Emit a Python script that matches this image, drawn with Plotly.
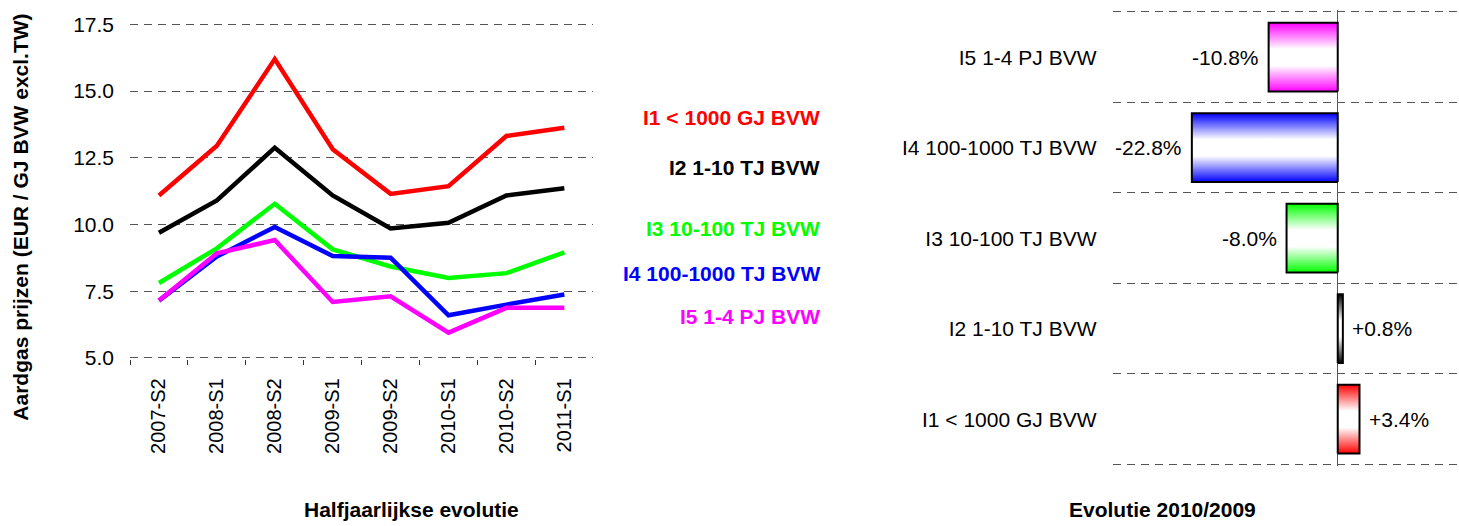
import plotly.graph_objects as go

# Half-yearly gas prices per consumer band (EUR / GJ BVW excl. TW)
periods = ["2007-S2", "2008-S1", "2008-S2", "2009-S1", "2009-S2", "2010-S1", "2010-S2", "2011-S1"]

series_names = ["I1 < 1000 GJ BVW", "I2 1-10 TJ BVW", "I3 10-100 TJ BVW",
                "I4 100-1000 TJ BVW", "I5 1-4 PJ BVW"]
series_colors = ["#FF0000", "#000000", "#00FF00", "#0000FF", "#FF00FF"]

i1_prices = [11.09, 12.95, 16.20, 12.82, 11.15, 11.44, 13.32, 13.63]
i2_prices = [9.69, 10.90, 12.88, 11.09, 9.85, 10.07, 11.09, 11.36]
i3_prices = [7.81, 9.11, 10.78, 9.07, 8.43, 8.00, 8.18, 8.96]
i4_prices = [7.15, 8.80, 9.91, 8.82, 8.76, 6.60, 7.00, 7.38]
i5_prices = [7.15, 8.92, 9.42, 7.10, 7.31, 5.95, 6.88, 6.88]

y_ticks = [5.0, 7.5, 10.0, 12.5, 15.0, 17.5]

# Change 2010/2009 in percent, bottom to top
bar_labels = ["I1 < 1000 GJ BVW", "I2 1-10 TJ BVW", "I3 10-100 TJ BVW",
              "I4 100-1000 TJ BVW", "I5 1-4 PJ BVW"]
bar_changes = [3.4, 0.8, -8.0, -22.8, -10.8]
bar_colors = ["#FF0000", "#000000", "#00FF00", "#0000FF", "#FF00FF"]

FONT = "Liberation Sans, Arial, sans-serif"
W, H = 1459, 526
GRID = "#555555"
FS = 21


def rows(py):
    """Pixel row on the page to figure row, compensating page offset/scale."""
    return (py - 7.8) / 0.97


def fy(py):
    return 1 - rows(py) / H


fig = go.Figure()

# ---- left panel: price lines ----
for name, color, vals in zip(series_names, series_colors,
                             [i1_prices, i2_prices, i3_prices, i4_prices, i5_prices]):
    fig.add_trace(go.Scatter(x=periods, y=vals, mode="lines", name=name,
                             line=dict(color=color, width=4.5),
                             xaxis="x", yaxis="y", showlegend=False))

# ---- right panel: gradient-filled horizontal bars ----
half = 0.38
for idx, (lab, val, col) in enumerate(zip(bar_labels, bar_changes, bar_colors)):
    xs = [0, val, val, 0, 0]
    ys = [idx - half, idx - half, idx + half, idx + half, idx - half]
    fig.add_trace(go.Scatter(
        x=xs, y=ys, mode="lines", fill="toself",
        line=dict(color="#000000", width=2),
        fillgradient=dict(type="vertical",
                          colorscale=[[0, col], [0.38, "#FFFFFF"], [0.62, "#FFFFFF"], [1, col]]),
        xaxis="x2", yaxis="y2", showlegend=False, hoverinfo="skip"))
    txt = f"{val:+.1f}%"
    fig.add_annotation(x=val, y=idx, xref="x2", yref="y2", text=txt, showarrow=False,
                       xanchor="right" if val < 0 else "left",
                       xshift=-8 if val < 0 else 7,
                       font=dict(family=FONT, size=FS, color="#000000"))

# left panel: 17.5 at row 22.3, 5.0 at row 358.7 ; range padded by 0.05
lx0, lx1 = 130, 593.3
l_unit = (rows(358.7) - rows(22.3)) / 12.5
l_top = rows(22.3) - 0.05 * l_unit
l_bot = rows(358.7) + 0.05 * l_unit

# right panel: category boundaries from row 9.8 to row 466 ; range padded by 0.02
rx0, rx1 = 1112.5, 1459
n_cat = len(bar_labels)
r_unit = (rows(466) - rows(9.8)) / n_cat
r_top = rows(9.8) - 0.02 * r_unit
r_bot = rows(466) + 0.02 * r_unit

fig.update_layout(
    width=W, height=H, margin=dict(l=0, r=0, t=0, b=0),
    paper_bgcolor="white", plot_bgcolor="white",
    font=dict(family=FONT, size=FS, color="#000000"),
    xaxis=dict(domain=[lx0 / W, lx1 / W], type="category", range=[-0.5, 7.5],
               tickson="boundaries", ticks="outside", ticklen=5, tickcolor="#333333",
               tickangle=-90, showgrid=False, showline=False, zeroline=False,
               ticklabelstandoff=14, tickfont=dict(size=20), anchor="y"),
    yaxis=dict(domain=[1 - l_bot / H, 1 - l_top / H], range=[4.95, 17.55],
               tickvals=y_ticks, ticktext=[f"{v:.1f}" for v in y_ticks],
               showgrid=True, gridcolor=GRID, griddash="8px,6px", gridwidth=1,
               zeroline=False, showline=False, ticks="", ticklabelstandoff=15,
               tickfont=dict(size=FS), anchor="x"),
    xaxis2=dict(domain=[rx0 / W, rx1 / W], range=[-35.2, 18.95],
                showticklabels=False, showgrid=False, zeroline=True,
                zerolinecolor="#555555", zerolinewidth=1, ticks="", anchor="y2"),
    yaxis2=dict(domain=[1 - r_bot / H, min(1.0, 1 - r_top / H)], range=[-0.52, n_cat - 0.48],
                tickvals=list(range(n_cat)), ticktext=bar_labels,
                showgrid=False, zeroline=False, ticks="", ticklabelstandoff=15,
                tickfont=dict(size=FS),
                minor=dict(tickvals=[i - 0.5 for i in range(n_cat + 1)],
                           showgrid=True, gridcolor=GRID, griddash="8px,6px", gridwidth=1),
                anchor="x2"),
)

# series labels beside the price lines
label_y = [116.7, 166.7, 228.5, 273.0, 317.0]
for name, color, py in zip(series_names, series_colors, label_y):
    fig.add_annotation(x=822 / W, y=fy(py), xref="paper", yref="paper", text=f"<b>{name}</b>",
                       showarrow=False, xanchor="right", yanchor="middle",
                       font=dict(family=FONT, size=FS, color=color))

# axis titles
fig.add_annotation(x=20.5 / W, y=fy(216.7), xref="paper", yref="paper",
                   text="<b>Aardgas prijzen (EUR / GJ BVW excl.TW)</b>", textangle=-90,
                   showarrow=False, xanchor="center", yanchor="middle",
                   font=dict(family=FONT, size=FS))
fig.add_annotation(x=411 / W, y=fy(511), xref="paper", yref="paper",
                   text="<b>Halfjaarlijkse evolutie</b>", showarrow=False,
                   xanchor="center", yanchor="middle", font=dict(family=FONT, size=FS))
fig.add_annotation(x=1162 / W, y=fy(511), xref="paper", yref="paper",
                   text="<b>Evolutie 2010/2009</b>", showarrow=False,
                   xanchor="center", yanchor="middle", font=dict(family=FONT, size=FS))

fig.write_html("out.html")
